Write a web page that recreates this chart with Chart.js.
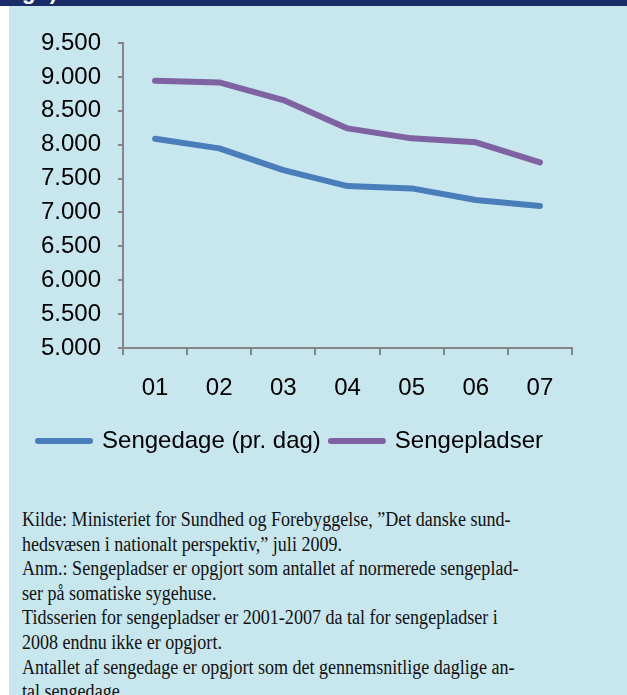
<!DOCTYPE html>
<html>
<head>
<meta charset="utf-8">
<script src="https://cdn.jsdelivr.net/npm/chart.js@4"></script>
<style>
  html, body { margin: 0; padding: 0; background: #ffffff; }
  body { width: 627px; height: 695px; position: relative; overflow: hidden; }
  #topbar {
    position: absolute; left: 0; top: 0; width: 627px; height: 6px;
    background: #1b2d69; overflow: hidden;
  }
  #topbar span {
    position: absolute; left: 22px; top: -21px;
    font: bold 22px "Liberation Sans", Arial, sans-serif; color: #ffffff;
    white-space: nowrap; letter-spacing: 1px;
  }
  #panel {
    position: absolute; left: 9px; top: 6px; width: 618px; height: 689px;
    background: #c7e6ee;
  }
  #wrap { position: absolute; left: 0; top: 0; width: 618px; height: 470px; }
  #noter {
    position: absolute; left: 22px; top: 507px; width: 700px;
    font: 20.5px "Liberation Serif", "Times New Roman", serif;
    line-height: 24.6px; color: #111111; white-space: nowrap;
    transform: scaleX(0.88); transform-origin: left top;
  }
</style>
</head>
<body>
<div id="topbar"><span>ge) 2001-2007</span></div>
<div id="panel">
  <div id="wrap"><canvas id="myChart"></canvas></div>
</div>
<div id="noter">
  Kilde: Ministeriet for Sundhed og Forebyggelse, ”Det danske sund-<br>
  hedsvæsen i nationalt perspektiv,” juli 2009.<br>
  Anm.: Sengepladser er opgjort som antallet af normerede sengeplad-<br>
  ser på somatiske sygehuse.<br>
  Tidsserien for sengepladser er 2001-2007 da tal for sengepladser i<br>
  2008 endnu ikke er opgjort.<br>
  Antallet af sengedage er opgjort som det gennemsnitlige daglige an-<br>
  tal sengedage.
</div>
<script>
const aar = ["01", "02", "03", "04", "05", "06", "07"]; // År
const sengedage = [8087, 7945, 7625, 7389, 7355, 7183, 7094]; // Sengedage (pr. dag)
const sengepladser = [8943, 8919, 8658, 8240, 8093, 8034, 7739]; // Sengepladser
const yMin = 5000;
const yMax = 9500;
const yStep = 500;

const grey = "#868686";

// tusindtalsseparator med punktum
function tal(v) {
  return String(v).replace(/\B(?=(\d{3})+(?!\d))/g, ".");
}

const ctx1 = document.getElementById("myChart").getContext("2d");
const myChart = new Chart(ctx1, {
  type: "line",
  data: {
    labels: aar,
    datasets: [
      {
        label: "Sengedage (pr. dag)",
        data: sengedage,
        borderColor: "#4a7ebb",
        backgroundColor: "#4a7ebb",
        borderWidth: 6,
        borderCapStyle: "round",
        borderJoinStyle: "round",
        pointRadius: 0,
        pointStyle: "line",
        tension: 0,
      },
      {
        label: "Sengepladser",
        data: sengepladser,
        borderColor: "#7f62a1",
        backgroundColor: "#7f62a1",
        borderWidth: 6,
        borderCapStyle: "round",
        borderJoinStyle: "round",
        pointRadius: 0,
        pointStyle: "line",
        tension: 0,
      },
    ],
  },
  options: {
    responsive: true,
    maintainAspectRatio: false,
    animation: false,
    layout: {
      padding: { top: 37, right: 55, bottom: 13, left: 0 },
    },
    plugins: {
      tooltip: { enabled: false },
      legend: {
        position: "bottom",
        labels: {
          usePointStyle: true,
          pointStyleWidth: 52,
          padding: 10,
          color: "#000000",
          font: { family: "'Liberation Sans', Arial, sans-serif", size: 24 },
          generateLabels: function (chart) {
            const items = Chart.defaults.plugins.legend.labels.generateLabels(chart);
            items.forEach(function (item) {
              item.lineCap = "round"; // runde ender som i figuren
            });
            return items;
          },
        },
      },
    },
    scales: {
      x: {
        offset: true,
        grid: {
          offset: true,
          drawOnChartArea: false,
          drawTicks: true,
          tickLength: 7,
          color: grey,
          lineWidth: 2,
        },
        border: { display: true, color: grey, width: 2 },
        ticks: {
          padding: 19,
          maxRotation: 0,
          color: "#000000",
          font: { family: "'Liberation Sans', Arial, sans-serif", size: 24 },
        },
        afterFit: function (scale) {
          scale.height = 71;
        },
      },
      y: {
        min: yMin,
        max: yMax,
        grid: {
          drawOnChartArea: false,
          drawTicks: true,
          tickLength: 5,
          color: grey,
          lineWidth: 2,
        },
        border: { display: true, color: grey, width: 2 },
        ticks: {
          stepSize: yStep,
          padding: 17,
          color: "#000000",
          font: { family: "'Liberation Sans', Arial, sans-serif", size: 24 },
          callback: function (value) {
            return tal(value);
          },
        },
        afterFit: function (scale) {
          scale.width = 114;
        },
      },
    },
  },
});
</script>
</body>
</html>
